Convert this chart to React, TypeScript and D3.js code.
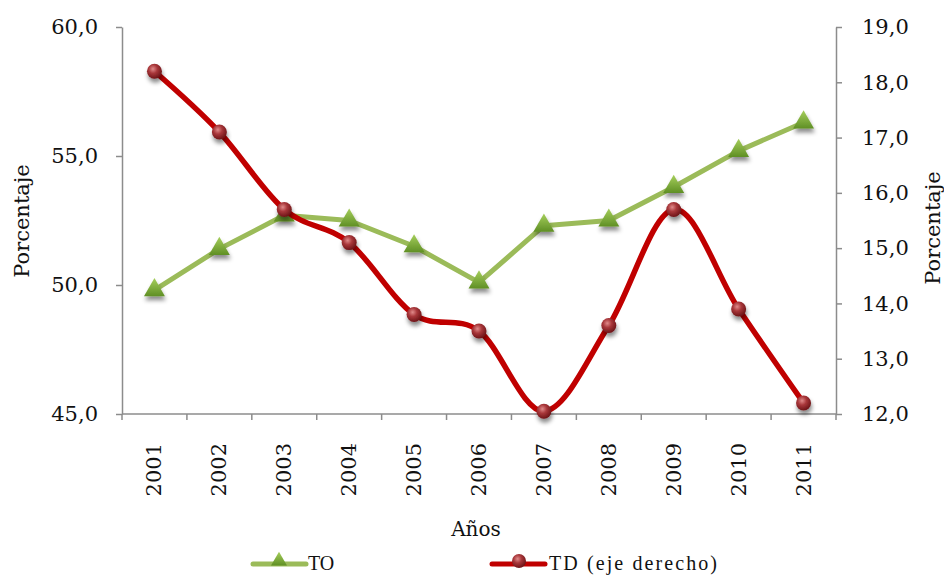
import React, { useEffect, useRef } from 'react';
import * as d3 from 'd3';

const years = ['2001', '2002', '2003', '2004', '2005', '2006', '2007', '2008', '2009', '2010', '2011'];
const toValues = [49.8, 51.4, 52.7, 52.5, 51.5, 50.1, 52.3, 52.5, 53.8, 55.2, 56.3];
const tdValues = [18.2, 17.1, 15.7, 15.1, 13.8, 13.5, 12.05, 13.6, 15.7, 13.9, 12.2];
const leftTicks = [45, 50, 55, 60];
const rightTicks = [12, 13, 14, 15, 16, 17, 18, 19];

const fmt = (d: number) => d.toFixed(1).replace('.', ',');

const App: React.FC = () => {
  const svgRef = useRef<SVGSVGElement>(null);

  useEffect(() => {
    if (!svgRef.current) return;
    const svg = d3.select(svgRef.current);
    svg.selectAll('*').remove();

    const width = 944;
    const height = 576;
    const left = 122;
    const right = 836;
    const top = 27;
    const bottom = 414;
    const axisColor = '#8c8c8c';
    const font = "'DejaVu Serif', serif";

    svg.attr('width', width).attr('height', height);

    const defs = svg.append('defs');
    const shadow = defs.append('filter').attr('id', 'shadow')
      .attr('x', '-50%').attr('y', '-50%').attr('width', '200%').attr('height', '220%');
    shadow.append('feDropShadow')
      .attr('dx', 1).attr('dy', 4).attr('stdDeviation', 2)
      .attr('flood-color', '#000').attr('flood-opacity', 0.45);

    const ball = defs.append('radialGradient').attr('id', 'ball')
      .attr('cx', '40%').attr('cy', '35%').attr('r', '65%');
    ball.append('stop').attr('offset', '0%').attr('stop-color', '#e08a8a');
    ball.append('stop').attr('offset', '45%').attr('stop-color', '#a8373a');
    ball.append('stop').attr('offset', '100%').attr('stop-color', '#6e1518');

    const tri = defs.append('linearGradient').attr('id', 'tri')
      .attr('x1', 0).attr('y1', 0).attr('x2', 0).attr('y2', 1);
    tri.append('stop').attr('offset', '0%').attr('stop-color', '#a6cf5c');
    tri.append('stop').attr('offset', '100%').attr('stop-color', '#5f8f24');

    const x = d3.scaleBand().domain(years).range([left, right]).padding(0);
    const cx = (y: string) => (x(y) ?? 0) + x.bandwidth() / 2;
    const yLeft = d3.scaleLinear().domain([45, 60]).range([bottom, top]);
    const yRight = d3.scaleLinear().domain([12, 19]).range([bottom, top]);

    // left axis
    const gl = svg.append('g').attr('transform', `translate(${left},0)`)
      .call(d3.axisLeft(yLeft).tickValues(leftTicks).tickSize(6).tickSizeOuter(0).tickPadding(18).tickFormat((d) => fmt(+d)));
    gl.selectAll('path,line').attr('stroke', axisColor).attr('stroke-width', 1.5);
    gl.selectAll('text').attr('font-family', font).attr('font-size', 21).attr('fill', '#111');

    // right axis
    const gr = svg.append('g').attr('transform', `translate(${right},0)`)
      .call(d3.axisRight(yRight).tickValues(rightTicks).tickSize(6).tickSizeOuter(0).tickPadding(20).tickFormat((d) => fmt(+d)));
    gr.selectAll('path,line').attr('stroke', axisColor).attr('stroke-width', 1.5);
    gr.selectAll('text').attr('font-family', font).attr('font-size', 21).attr('fill', '#111');

    // x axis with ticks at band boundaries
    const gx = svg.append('g');
    gx.append('line').attr('x1', left).attr('x2', right).attr('y1', bottom).attr('y2', bottom)
      .attr('stroke', axisColor).attr('stroke-width', 1.5);
    d3.range(years.length + 1).forEach((i) => {
      const xx = left + i * x.step();
      gx.append('line').attr('x1', xx).attr('x2', xx).attr('y1', bottom).attr('y2', bottom + 6)
        .attr('stroke', axisColor).attr('stroke-width', 1.5);
    });
    years.forEach((yr) => {
      gx.append('text')
        .attr('transform', `translate(${cx(yr) + 7},${bottom + 29}) rotate(-90)`)
        .attr('text-anchor', 'end')
        .attr('font-family', font).attr('font-size', 21).attr('fill', '#111')
        .text(yr);
    });

    // axis titles
    svg.append('text').attr('transform', 'translate(29,221) rotate(-90)')
      .attr('text-anchor', 'middle').attr('font-family', font).attr('font-size', 21).attr('fill', '#111')
      .text('Porcentaje');
    svg.append('text').attr('transform', 'translate(940,228) rotate(-90)')
      .attr('text-anchor', 'middle').attr('font-family', font).attr('font-size', 21).attr('fill', '#111')
      .text('Porcentaje');
    svg.append('text').attr('x', 476).attr('y', 536)
      .attr('text-anchor', 'middle').attr('font-family', font).attr('font-size', 20).attr('fill', '#111')
      .text('Años');

    const triangle = d3.symbol().type(d3.symbolTriangle).size(190);

    // TO line (left axis)
    const lineTO = d3.line<number>().x((_, i) => cx(years[i])).y((d) => yLeft(d));
    svg.append('path').attr('d', lineTO(toValues))
      .attr('fill', 'none').attr('stroke', '#9bbb59').attr('stroke-width', 5).attr('stroke-linejoin', 'round');
    svg.append('g').selectAll('path').data(toValues).join('path')
      .attr('d', triangle)
      .attr('transform', (d, i) => `translate(${cx(years[i])},${yLeft(d)})`)
      .attr('fill', 'url(#tri)').attr('filter', 'url(#shadow)');

    // TD line (right axis), smoothed
    const lineTD = d3.line<number>().x((_, i) => cx(years[i])).y((d) => yRight(d))
      .curve(d3.curveCardinal.tension(0));
    svg.append('path').attr('d', lineTD(tdValues))
      .attr('fill', 'none').attr('stroke', '#c00000').attr('stroke-width', 5.5).attr('stroke-linejoin', 'round');
    svg.append('g').selectAll('circle').data(tdValues).join('circle')
      .attr('cx', (_, i) => cx(years[i])).attr('cy', (d) => yRight(d)).attr('r', 7.5)
      .attr('fill', 'url(#ball)').attr('filter', 'url(#shadow)');

    // legend
    const lg = svg.append('g');
    lg.append('line').attr('x1', 253).attr('x2', 306).attr('y1', 564).attr('y2', 564)
      .attr('stroke', '#9bbb59').attr('stroke-width', 5).attr('stroke-linecap', 'round');
    lg.append('path').attr('d', d3.symbol().type(d3.symbolTriangle).size(110)())
      .attr('transform', 'translate(279,561)').attr('fill', 'url(#tri)');
    lg.append('text').attr('x', 308).attr('y', 570)
      .attr('font-family', "'Liberation Serif', serif").attr('font-size', 20).attr('fill', '#111')
      .text('TO');
    lg.append('line').attr('x1', 492).attr('x2', 545).attr('y1', 564).attr('y2', 564)
      .attr('stroke', '#c00000').attr('stroke-width', 5).attr('stroke-linecap', 'round');
    lg.append('circle').attr('cx', 519).attr('cy', 561).attr('r', 7).attr('fill', 'url(#ball)');
    lg.append('text').attr('x', 549).attr('y', 570)
      .attr('font-family', "'Liberation Serif', serif").attr('font-size', 20).attr('fill', '#111')
      .attr('textLength', 168).attr('lengthAdjust', 'spacing')
      .text('TD (eje derecho)');
  }, []);

  return (
    <svg ref={svgRef} style={{ position: 'absolute', left: 0, top: 0, background: '#fff' }}></svg>
  );
};

export default App;
